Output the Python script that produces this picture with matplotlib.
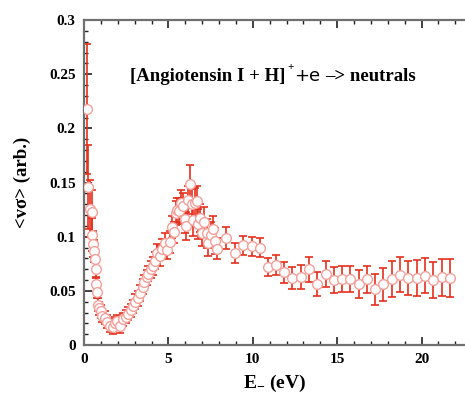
import matplotlib
matplotlib.use("Agg")
import matplotlib.pyplot as plt
from matplotlib.ticker import MultipleLocator, FixedLocator

energy = [0.20, 0.25, 0.36, 0.45, 0.50, 0.55, 0.61, 0.65, 0.69, 0.71, 0.75, 0.81, 0.91, 0.99,
          1.08, 1.24, 1.38, 1.54, 1.70, 1.84, 1.97, 2.13, 2.33, 2.49, 2.63, 2.77, 2.92, 3.04,
          3.20, 3.32, 3.48, 3.55, 3.71, 3.81, 3.95, 4.11, 4.21, 4.31, 4.50, 4.60, 4.80, 4.90,
          5.10, 5.23, 5.33, 5.45, 5.53, 5.65, 5.73, 5.88, 5.96, 6.04, 6.16, 6.28, 6.38, 6.44,
          6.58, 6.68, 6.77, 6.87, 6.97, 7.11, 7.27, 7.36, 7.50, 7.66, 7.76, 7.90, 8.41, 8.95,
          9.44, 9.93, 10.43, 10.88, 11.37, 11.87, 12.34, 12.84, 13.33, 13.82, 14.32, 14.81,
          15.30, 15.78, 16.27, 16.75, 17.26, 17.73, 18.23, 18.72, 19.21, 19.71, 20.20, 20.69,
          21.19, 21.68]
rate = [0.218, 0.146, 0.126, 0.123, 0.102, 0.093, 0.087, 0.079, 0.070, 0.056, 0.049, 0.037,
        0.034, 0.031, 0.027, 0.025, 0.0215, 0.018, 0.017, 0.020, 0.022, 0.018, 0.024, 0.026,
        0.029, 0.032, 0.036, 0.040, 0.043, 0.048, 0.054, 0.058, 0.0625, 0.066, 0.070, 0.073,
        0.078, 0.085, 0.082, 0.089, 0.094, 0.088, 0.095, 0.109, 0.104, 0.122, 0.125, 0.124,
        0.131, 0.128, 0.116, 0.110, 0.134, 0.149, 0.130, 0.115, 0.131, 0.133, 0.112, 0.117,
        0.103, 0.114, 0.103, 0.094, 0.102, 0.107, 0.096, 0.089, 0.099, 0.085, 0.092, 0.091,
        0.090, 0.072, 0.074, 0.067, 0.062, 0.0625, 0.070, 0.056, 0.0655, 0.060, 0.061, 0.0607,
        0.0566, 0.0607, 0.0517, 0.056, 0.061, 0.065, 0.062, 0.0616, 0.064, 0.060, 0.0625, 0.062]
rate_err = [0.060, 0.039, 0.026, 0.020, 0.015, 0.012, 0.010, 0.009, 0.008, 0.007, 0.006, 0.006,
            0.006, 0.006, 0.006, 0.006, 0.006, 0.006, 0.007, 0.006, 0.006, 0.007, 0.006, 0.006,
            0.006, 0.006, 0.006, 0.007, 0.007, 0.007, 0.007, 0.007, 0.007, 0.007, 0.008, 0.008,
            0.008, 0.008, 0.009, 0.009, 0.009, 0.009, 0.010, 0.010, 0.010, 0.011, 0.011, 0.012,
            0.012, 0.012, 0.013, 0.013, 0.013, 0.017, 0.014, 0.014, 0.014, 0.014, 0.014, 0.013,
            0.012, 0.013, 0.013, 0.012, 0.012, 0.012, 0.012, 0.010, 0.010, 0.009, 0.009, 0.009,
            0.009, 0.0087, 0.009, 0.010, 0.010, 0.011, 0.0115, 0.011, 0.012, 0.012, 0.012, 0.012,
            0.013, 0.0127, 0.0143, 0.015, 0.017, 0.016, 0.016, 0.0166, 0.016, 0.017, 0.017, 0.0175]

x_ticks = [0, 5, 10, 15, 20]
x_ticklabels = ["0", "5", "10", "15", "20"]
y_ticks = [0, 0.05, 0.1, 0.15, 0.2, 0.25, 0.3]
y_ticklabels = ["0", "0.05", "0.1", "0.15", "0.2", "0.25", "0.3"]

serif = ["Liberation Serif", "DejaVu Serif"]

fig = plt.figure(figsize=(4.65, 3.99), dpi=100)
ax = fig.add_axes([0.1806, 0.1353, 0.8194, 0.8145])

ax.errorbar(energy, rate, yerr=rate_err, fmt="none", ecolor="#e5301c", elinewidth=1.2,
            capsize=3, capthick=1.2, zorder=2)
ax.plot(energy, rate, linestyle="none", marker="o", markersize=7, markerfacecolor="white",
        markeredgecolor="#f4a09a", markeredgewidth=1.0, zorder=3)

ax.set_xlim(0, 22.57)
ax.set_ylim(0, 0.3)
ax.xaxis.set_major_locator(FixedLocator(x_ticks))
ax.yaxis.set_major_locator(FixedLocator(y_ticks))
ax.xaxis.set_minor_locator(MultipleLocator(1))
ax.yaxis.set_minor_locator(MultipleLocator(0.01))
ax.set_xticklabels(x_ticklabels, fontfamily=serif, fontweight="bold", fontsize=11)
ax.set_yticklabels(y_ticklabels, fontfamily=serif, fontweight="bold", fontsize=11)
ax.tick_params(which="both", direction="in", top=True, right=False, color="#222222")
ax.tick_params(which="major", length=6, width=1.2, pad=6)
ax.tick_params(which="minor", length=3, width=1.0)

for side in ["left", "bottom", "top"]:
    ax.spines[side].set_color("#707070")
    ax.spines[side].set_linewidth(1.6)
ax.spines["right"].set_visible(False)

ax.set_xlabel(r"E$_{\mathregular{-}}$ (eV)", fontfamily=serif, fontweight="bold", fontsize=14,
              labelpad=5)
ax.set_ylabel("<vσ> (arb.)", fontfamily=serif, fontweight="bold", fontsize=13.5, labelpad=13)

# annotation built of pieces
fig.canvas.draw()
r = fig.canvas.get_renderer()
fs = 13.5
t1 = ax.text(2.72, 0.244, "[Angiotensin I + H]", fontfamily=serif, fontweight="bold",
             fontsize=fs, ha="left", va="baseline")
bb = t1.get_window_extent(r)
inv = ax.transData.inverted()
x1, _ = inv.transform((bb.x1, bb.y0))
t2 = ax.text(x1 + 0.12, 0.254, "+", fontfamily=serif, fontweight="bold", fontsize=8,
             ha="left", va="baseline")
bb2 = t2.get_window_extent(r)
x2, _ = inv.transform((bb2.x1, bb2.y0))
t3 = ax.text(x2 + 0.05, 0.244, "+e", fontfamily=["DejaVu Sans"], fontsize=13,
             ha="left", va="baseline")
bb3 = t3.get_window_extent(r)
x3, _ = inv.transform((bb3.x1, bb3.y0))
ax.text(x3 + 0.3, 0.244, "\u2013> neutrals", fontfamily=serif, fontweight="bold",
        fontsize=fs, ha="left", va="baseline")

fig.savefig("out.png", dpi=100)
